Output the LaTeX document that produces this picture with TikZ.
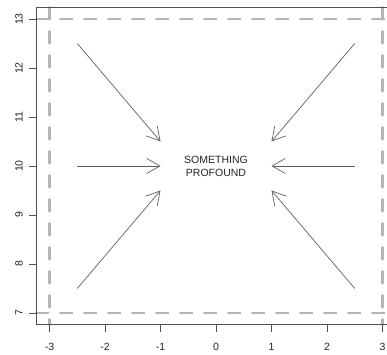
\documentclass[tikz,border=0pt]{standalone}
\usepackage{fontspec}
\setmainfont{Liberation Sans}
\usepackage{xcolor}
\definecolor{framegray}{RGB}{80,80,80}
\definecolor{dashgray}{RGB}{180,180,180}
\definecolor{arrowgray}{RGB}{95,95,95}
\definecolor{textgray}{RGB}{35,35,35}
\usetikzlibrary{arrows.meta,calc}

\begin{document}
\begin{tikzpicture}[x=55.5pt, y=49pt,
        frame/.style={draw=framegray, line width=0.8pt},
        guide/.style={draw=dashgray, line width=2.6pt,
                      dash pattern=on 12pt off 12pt, line cap=round},
        ptr/.style={-{Straight Barb[length=13pt, width=15pt]},
                    draw=arrowgray, line width=0.7pt},
        lbl/.style={font=\fontsize{10.5}{13}\selectfont, text=textgray,
                    inner sep=0pt, align=center}
    ]
        \useasboundingbox (-3.892,6.163) rectangle (3.081,13.388);
        \clip (-3.892,6.163) rectangle (3.081,13.388);

        % dashed frame
        \draw[guide] (-3.24,13) -- (3.24,13);
        \draw[guide] (-3.24,7)  -- (3.24,7);
        \draw[guide] (-3,13.24) -- (-3,6.76);
        \draw[guide] (3,13.24)  -- (3,6.76);

        % plot box and axes
        \draw[frame] (-3.24,6.76) rectangle (3.24,13.24);
        \foreach \v in {-3,...,3}
            \draw[frame] (\v,6.76) -- ++(0,-0.14)
                node[lbl, anchor=center] (xt\v) at (\v,6.306) {\v};
        \foreach \v in {7,...,13}
            \draw[frame] (-3.24,\v) -- ++(-0.126,0)
                node[lbl, rotate=90, anchor=center] (yt\v) at (-3.55,\v) {\v};

        \node[lbl] (msg) at (0,10) {SOMETHING\\PROFOUND};

        \coordinate (srcul) at (-2.5,12.5);
        \coordinate (srcml) at (-2.5,10);
        \coordinate (srcll) at (-2.5,7.5);
        \coordinate (srcur) at (2.5,12.5);
        \coordinate (srcmr) at (2.5,10);
        \coordinate (srclr) at (2.5,7.5);
        \coordinate (dstul) at (-1,10.5);
        \coordinate (dstml) at (-1,10);
        \coordinate (dstll) at (-1,9.5);
        \coordinate (dstur) at (1,10.5);
        \coordinate (dstmr) at (1,10);
        \coordinate (dstlr) at (1,9.5);

        \foreach \p in {ul,ml,ll,ur,mr,lr}
            \draw[ptr] (src\p) -- (dst\p);
    \end{tikzpicture}
\end{document}
